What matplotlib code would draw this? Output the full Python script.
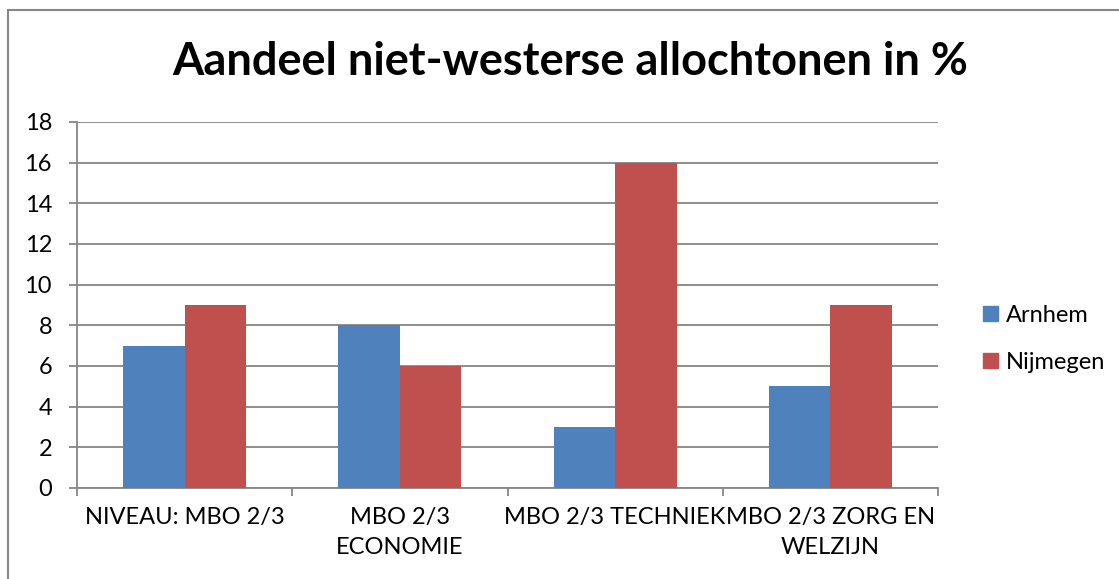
import matplotlib.pyplot as plt
import matplotlib.patches as mpatches
import numpy as np

# datos
categorias = ['NIVEAU: MBO 2/3', 'MBO 2/3\nECONOMIE', 'MBO 2/3 TECHNIEK', 'MBO 2/3 ZORG EN\nWELZIJN']
arnhem = [7, 8, 3, 5]
nijmegen = [9, 6, 16, 9]
series = ['Arnhem', 'Nijmegen']
colores = ['#4F81BD', '#C0504D']
gris = '#868686'

plt.rcParams['font.family'] = ['Lato', 'DejaVu Sans']

fig = plt.figure(figsize=(11.19, 5.79), dpi=100)
ax = fig.add_axes([77 / 1119, 1 - 488 / 579, (938 - 77) / 1119, (488 - 122) / 579])

x = np.arange(len(categorias))
ancho = 0.286
ax.bar(x - ancho / 2, arnhem, ancho, color=colores[0], label=series[0], zorder=3)
ax.bar(x + ancho / 2, nijmegen, ancho, color=colores[1], label=series[1], zorder=3)

ax.set_xlim(-0.5, len(categorias) - 0.5)
ax.set_ylim(0, 18)
ax.set_yticks(range(0, 19, 2))
ax.yaxis.grid(True, color=gris, linewidth=1.3, zorder=0)
ax.tick_params(axis='y', length=6, width=1.3, color=gris, labelsize=17, pad=12, direction='out')

# ticks x en los limites de categoria
ax.set_xticks(np.arange(-0.5, len(categorias)), minor=False)
ax.set_xticklabels([])
ax.set_xticks(x, minor=True)
ax.set_xticklabels(categorias, minor=True, fontsize=17, linespacing=1.5)
ax.tick_params(axis='x', which='major', length=6, width=1.3, color=gris, direction='out')
ax.tick_params(axis='x', which='minor', length=0, pad=14)

for lado in ['top', 'right']:
    ax.spines[lado].set_visible(False)
for lado in ['left', 'bottom']:
    ax.spines[lado].set_color(gris)
    ax.spines[lado].set_linewidth(1.3)

fig.text(570 / 1119, 1 - 62 / 579, 'Aandeel niet-westerse allochtonen in %',
         ha='center', va='center', fontsize=32.5, fontweight='bold')

handles = [mpatches.Patch(color=c) for c in colores]
fig.legend(handles, series, loc='center left', bbox_to_anchor=(962 / 1119, 1 - 339 / 579),
           frameon=False, fontsize=17, handlelength=0.62, handleheight=0.62,
           handletextpad=0.35, labelspacing=1.1)

# borde del grafico
fig.patches.append(mpatches.Rectangle((8 / 1119, -0.1), 1.2, 1.1 - 10 / 579,
                                      transform=fig.transFigure, fill=False,
                                      edgecolor=gris, linewidth=1.5))

fig.savefig('out.png', dpi=100)
